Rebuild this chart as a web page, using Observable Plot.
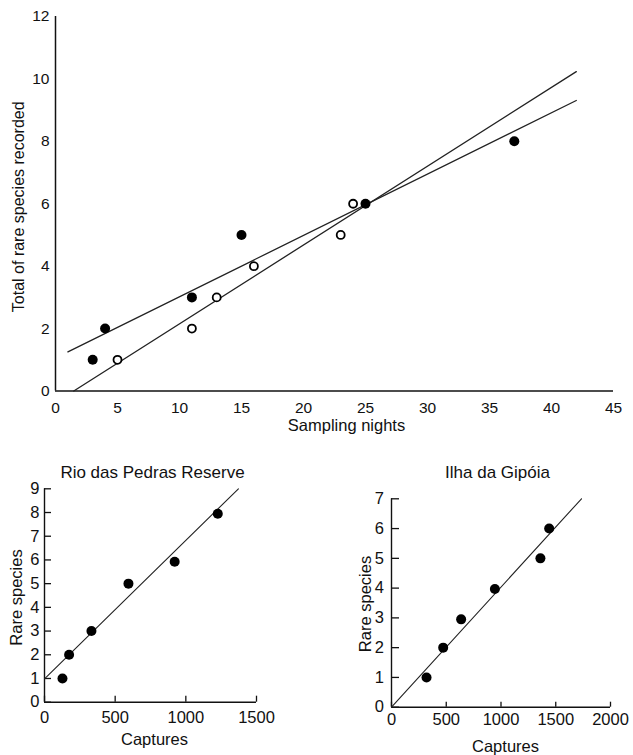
<!DOCTYPE html>
<html><head><meta charset="utf-8">
<script src="https://cdn.jsdelivr.net/npm/d3@7"></script>
<script src="https://cdn.jsdelivr.net/npm/@observablehq/plot@0.6"></script>
<style>
body{margin:0;background:#fff;}
#wrap{position:relative;width:633px;height:755px;overflow:hidden;}
#wrap > div{position:absolute;}
</style></head><body>
<div id="wrap">
  <div id="top" style="left:0;top:0"></div>
  <div id="bl" style="left:0;top:455px"></div>
  <div id="br" style="left:340px;top:455px"></div>
</div>
<script>
// ---- Top chart data ----
const filledNights  = [3, 4, 11, 15, 25, 37];
const filledSpecies = [1, 2, 3, 5, 6, 8];
const openNights    = [5, 11, 13, 16, 23, 24];
const openSpecies   = [1, 2, 3, 4, 5, 6];
const topXTicks = [0, 5, 10, 15, 20, 25, 30, 35, 40, 45];
const topYTicks = [0, 2, 4, 6, 8, 10, 12];
const topFitRange = [1, 42];
const topXLabel = "Sampling nights";
const topYLabel = "Total of rare species recorded";

// ---- Rio das Pedras ----
const rioTitle = "Rio das Pedras Reserve";
const rioCaptures = [127, 174, 332, 594, 921, 1226];
const rioSpecies  = [1, 2, 3, 5, 5.92, 7.95];
const rioFitIntercept = 0.98, rioFitSlope = 0.005845;
const rioFitRange = [0, 1372];
const rioXTicks = [0, 500, 1000, 1500];
const rioYTicks = [0, 1, 2, 3, 4, 5, 6, 7, 8, 9];

// ---- Ilha da Gipóia ----
const gipTitle = "Ilha da Gipóia";
const gipCaptures = [320, 472, 636, 944, 1360, 1440];
const gipSpecies  = [1, 2, 2.95, 3.97, 5, 6];
const gipFitIntercept = 0, gipFitSlope = 0.004035;
const gipFitRange = [0, 1735];
const gipXTicks = [0, 500, 1000, 1500, 2000];
const gipYTicks = [0, 1, 2, 3, 4, 5, 6, 7];

const xLabelSmall = "Captures";
const yLabelSmall = "Rare species";

const FONT = "'Liberation Sans', Arial, sans-serif";
const INK = "#111";
const fmt = d => String(d);

function fit(xs, ys) {
  const mx = d3.mean(xs), my = d3.mean(ys);
  let sxy = 0, sxx = 0;
  xs.forEach((x, i) => { sxy += (x - mx) * (ys[i] - my); sxx += (x - mx) ** 2; });
  const slope = sxy / sxx;
  return {slope, intercept: my - slope * mx};
}
const pts = (xs, ys) => xs.map((x, i) => ({x, y: ys[i]}));

// ---- Top chart ----
const fF = fit(filledNights, filledSpecies);
const fO = fit(openNights, openSpecies);
const filledLine = topFitRange.map(x => ({x, y: fF.intercept + fF.slope * x}));
const openStart = Math.max(topFitRange[0], -fO.intercept / fO.slope);
const openLine = [openStart, topFitRange[1]].map(x => ({x, y: fO.intercept + fO.slope * x}));

const topPlot = Plot.plot({
  width: 633, height: 440,
  marginLeft: 55, marginRight: 20, marginTop: 16, marginBottom: 49.5,
  style: {fontFamily: FONT, fontSize: "15.5px", color: INK, background: "transparent"},
  x: {domain: [0, 45]},
  y: {domain: [0, 12]},
  marks: [
    Plot.axisX(topXTicks, {tickSize: 0, tickPadding: 11, label: null, fontSize: 15.5, tickFormat: fmt}),
    Plot.axisY(topYTicks, {tickSize: 0, tickPadding: 6, label: null, fontSize: 15.5, tickFormat: fmt}),
    Plot.ruleX([0], {stroke: INK, strokeWidth: 1.5}),
    Plot.ruleY([0], {stroke: INK, strokeWidth: 1.5}),
    Plot.line(filledLine, {x: "x", y: "y", stroke: "#222", strokeWidth: 1.3}),
    Plot.line(openLine, {x: "x", y: "y", stroke: "#222", strokeWidth: 1.3}),
    Plot.dot(pts(filledNights, filledSpecies), {x: "x", y: "y", r: 5, fill: "#000", stroke: "none"}),
    Plot.dot(pts(openNights, openSpecies), {x: "x", y: "y", r: 4, fill: "#fff", stroke: "#000", strokeWidth: 1.8}),
    Plot.text([topXLabel], {text: d => d, frameAnchor: "bottom", lineAnchor: "middle", textAnchor: "middle", dy: 35, dx: 12, fontSize: 16.5, fill: INK}),
    Plot.text([topYLabel], {text: d => d, frameAnchor: "left", lineAnchor: "middle", textAnchor: "middle", rotate: -90, dx: -37, dy: 3, fontSize: 16, fill: INK})
  ]
});
document.getElementById("top").appendChild(topPlot);

// ---- Small charts ----
function small({title, xs, ys, b0, b1, range, xTicks, yTicks, width, height, ml, mr, mt, mb, xPad, yPad, yTickLen, xTickLen, titleDy, titleDx, xlDy, xlDx, ylDx, ylDy}) {
  const fw = width - ml - mr, fh = height - mt - mb;
  const fitLine = range.map(x => ({x, y: b0 + b1 * x}));
  return Plot.plot({
    width, height, marginLeft: ml, marginRight: mr, marginTop: mt, marginBottom: mb,
    style: {fontFamily: FONT, fontSize: "16.5px", color: INK, background: "transparent"},
    x: {domain: [xTicks[0], xTicks[xTicks.length - 1]]},
    y: {domain: [yTicks[0], yTicks[yTicks.length - 1]]},
    marks: [
      Plot.axisX(xTicks, {tickSize: 0, tickPadding: xPad, label: null, fontSize: 16.5, tickFormat: fmt}),
      Plot.axisY(yTicks, {tickSize: 0, tickPadding: yPad, label: null, fontSize: 16.5, tickFormat: fmt}),
      Plot.tickY(yTicks, {y: d => d, insetRight: fw - yTickLen, stroke: INK, strokeWidth: 1.3}),
      Plot.tickX(xTicks, {x: d => d, insetTop: fh - xTickLen, stroke: INK, strokeWidth: 1.3}),
      Plot.ruleX([xTicks[0]], {stroke: INK, strokeWidth: 1.4}),
      Plot.ruleY([yTicks[0]], {stroke: INK, strokeWidth: 1.4}),
      Plot.line(fitLine, {x: "x", y: "y", stroke: "#222", strokeWidth: 1.1}),
      Plot.dot(pts(xs, ys), {x: "x", y: "y", r: 5, fill: "#000", stroke: "none"}),
      Plot.text([title], {text: d => d, frameAnchor: "top", lineAnchor: "middle", textAnchor: "middle", dy: titleDy, dx: titleDx, fontSize: 17, fill: INK}),
      Plot.text([xLabelSmall], {text: d => d, frameAnchor: "bottom", lineAnchor: "middle", textAnchor: "middle", dy: xlDy, dx: xlDx, fontSize: 16.5, fill: INK}),
      Plot.text([yLabelSmall], {text: d => d, frameAnchor: "left", lineAnchor: "middle", textAnchor: "middle", rotate: -90, dx: ylDx, dy: ylDy, fontSize: 16.5, fill: INK})
    ]
  });
}

document.getElementById("bl").appendChild(small({
  title: rioTitle, xs: rioCaptures, ys: rioSpecies, b0: rioFitIntercept, b1: rioFitSlope, range: rioFitRange,
  xTicks: rioXTicks, yTicks: rioYTicks, width: 300, height: 300, ml: 44, mr: 44, mt: 33.3, mb: 53.3,
  xPad: 9.5, yPad: 5, yTickLen: 7, xTickLen: 6, titleDy: -16.5, titleDx: 2, xlDy: 37.5, xlDx: 4, ylDx: -28, ylDy: 2
}));

document.getElementById("br").appendChild(small({
  title: gipTitle, xs: gipCaptures, ys: gipSpecies, b0: gipFitIntercept, b1: gipFitSlope, range: gipFitRange,
  xTicks: gipXTicks, yTicks: gipYTicks, width: 293, height: 300, ml: 51, mr: 23, mt: 43.3, mb: 48.3,
  xPad: 6, yPad: 7.5, yTickLen: 8, xTickLen: 5, titleDy: -26.5, titleDx: -3.5, xlDy: 39.5, xlDx: 4.5, ylDx: -26, ylDy: 1
}));
</script>
</body></html>
